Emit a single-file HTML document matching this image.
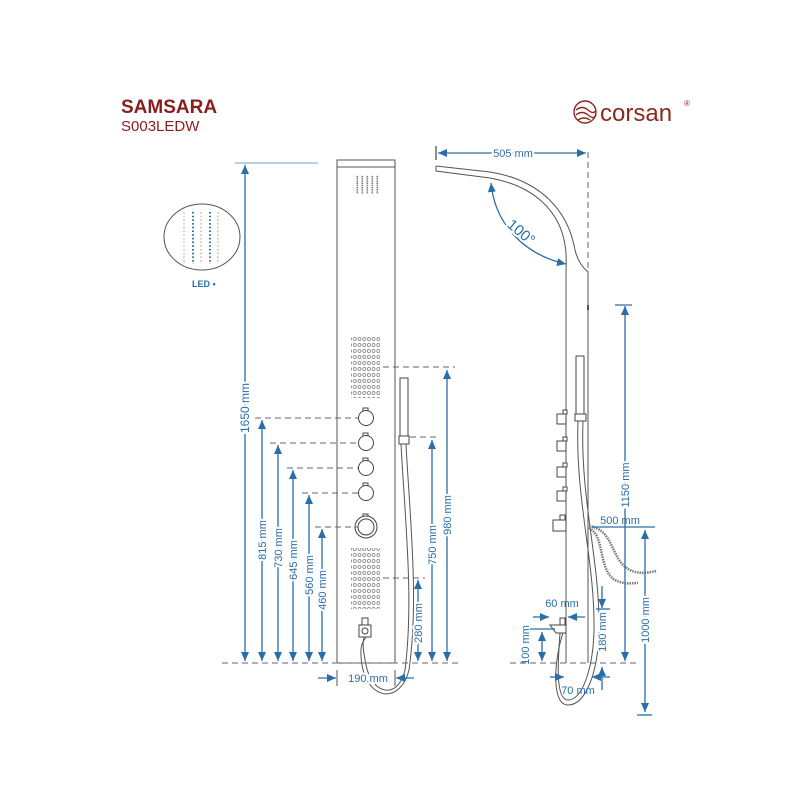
<!DOCTYPE html>
<html><head><meta charset="utf-8"><style>
html,body{margin:0;padding:0;background:#fff;}
svg{display:block;font-family:"Liberation Sans",sans-serif;}
</style></head><body>
<svg width="800" height="800" viewBox="0 0 800 800" xmlns="http://www.w3.org/2000/svg">
<defs>
<marker id="a" viewBox="0 0 10 10" refX="10" refY="5" markerWidth="9" markerHeight="8" orient="auto-start-reverse" markerUnits="userSpaceOnUse" preserveAspectRatio="none"><path d="M0,0 L10,5 L0,10 z" fill="#2a6ea8"/></marker>
<pattern id="dots" width="4.7" height="6" patternUnits="userSpaceOnUse"><circle cx="2.3" cy="3" r="1.5" fill="none" stroke="#777" stroke-width="0.7"/></pattern>
<pattern id="noz" width="5" height="2.2" patternUnits="userSpaceOnUse"><rect x="1.5" y="0" width="1.6" height="1.4" fill="#777"/></pattern>
</defs>
<text x="121" y="113" font-size="19" font-weight="bold" fill="#8b1c1c">SAMSARA</text>
<text x="121" y="131" font-size="15" fill="#8b1c1c">S003LEDW</text>
<g fill="none" stroke="#8b2a1c" stroke-width="1.4"><circle cx="585" cy="112" r="11"/><path d="M576,110 q6,-5 12,0 t8,0"/><path d="M576,115 q6,-5 12,0 t8,0"/><path d="M578,120 q6,-4 12,0"/></g>
<text x="600" y="121" font-size="24" fill="#8b2a1c">corsan</text>
<text x="684" y="106" font-size="8" fill="#8b2a1c">®</text>
<ellipse cx="202" cy="237" rx="38" ry="33" fill="none" stroke="#555" stroke-width="1"/>
<g>
<line x1="184" y1="212" x2="184" y2="264" stroke="#ccc" stroke-width="2" stroke-dasharray="1.5,2.2"/>
<line x1="193" y1="212" x2="193" y2="264" stroke="#2a6ea8" stroke-width="2" stroke-dasharray="1.5,2.2"/>
<line x1="201" y1="212" x2="201" y2="264" stroke="#ccc" stroke-width="2" stroke-dasharray="1.5,2.2"/>
<line x1="210" y1="212" x2="210" y2="264" stroke="#2a6ea8" stroke-width="2" stroke-dasharray="1.5,2.2"/>
<line x1="218" y1="212" x2="218" y2="264" stroke="#ccc" stroke-width="2" stroke-dasharray="1.5,2.2"/>
</g>
<text x="192" y="287" font-size="9" font-weight="bold" fill="#2a6ea8">LED •</text>

<g stroke="#555" fill="none" stroke-width="1">
<rect x="337" y="160" width="58" height="503"/>
<line x1="337" y1="167" x2="395" y2="167"/>
</g>
<rect x="353" y="175" width="26" height="19" fill="url(#noz)"/>
<rect x="351" y="337" width="29" height="61" fill="url(#dots)"/>
<rect x="351" y="548" width="29" height="61" fill="url(#dots)"/>
<g stroke="#444" fill="#fff" stroke-width="1">
<rect x="363" y="408" width="5" height="4"/><circle cx="366" cy="418" r="7.5"/>
<rect x="363" y="433" width="5" height="4"/><circle cx="366" cy="443" r="7.5"/>
<rect x="363" y="458" width="5" height="4"/><circle cx="366" cy="468" r="7.5"/>
<rect x="363" y="483" width="5" height="4"/><circle cx="366" cy="493" r="7.5"/>
<rect x="363" y="514" width="5" height="4"/><circle cx="366" cy="527" r="11"/><circle cx="366" cy="527" r="8"/>
<rect x="362" y="618" width="6" height="7"/><rect x="359" y="625" width="12" height="12"/><circle cx="365" cy="631" r="3"/>
<rect x="400" y="378" width="8" height="58"/><rect x="399" y="436" width="10" height="8"/>
</g>
<path d="M401,444 C405,520 414,600 405,670 C398,700 372,695 366,665 C361,640 364,640 364,637" fill="none" stroke="#555" stroke-width="1"/>
<path d="M406,444 C410,520 419,600 409,670 C400,705 368,700 362,665 C358,640 366,640 366,637" fill="none" stroke="#555" stroke-width="1"/>
<g stroke="#2a6ea8" stroke-width="1.3" fill="none">
<line x1="235" y1="163" x2="318" y2="163" stroke="#6fa0c8" stroke-width="1"/>
<line x1="245" y1="165" x2="245" y2="661" marker-start="url(#a)" marker-end="url(#a)"/>
<line x1="262" y1="420" x2="262" y2="661" marker-start="url(#a)" marker-end="url(#a)"/>
<line x1="278" y1="445" x2="278" y2="661" marker-start="url(#a)" marker-end="url(#a)"/>
<line x1="293" y1="470" x2="293" y2="661" marker-start="url(#a)" marker-end="url(#a)"/>
<line x1="309" y1="495" x2="309" y2="661" marker-start="url(#a)" marker-end="url(#a)"/>
<line x1="322" y1="529" x2="322" y2="661" marker-start="url(#a)" marker-end="url(#a)"/>
<line x1="418" y1="580" x2="418" y2="661" marker-start="url(#a)" marker-end="url(#a)"/>
<line x1="432" y1="440" x2="432" y2="661" marker-start="url(#a)" marker-end="url(#a)"/>
<line x1="447" y1="370" x2="447" y2="661" marker-start="url(#a)" marker-end="url(#a)"/>
<line x1="318" y1="678" x2="336" y2="678" marker-end="url(#a)"/>
<line x1="414" y1="678" x2="396" y2="678" marker-end="url(#a)"/>
</g>
<g stroke="#666" stroke-width="1" stroke-dasharray="6,4">
<line x1="255" y1="418" x2="358" y2="418"/>
<line x1="270" y1="443" x2="358" y2="443"/>
<line x1="287" y1="468" x2="358" y2="468"/>
<line x1="302" y1="493" x2="358" y2="493"/>
<line x1="315" y1="527" x2="358" y2="527"/>
<line x1="383" y1="367" x2="455" y2="367"/>
<line x1="410" y1="437" x2="440" y2="437"/>
<line x1="383" y1="578" x2="425" y2="578"/>
<line x1="222" y1="663" x2="460" y2="663"/>
<line x1="510" y1="663" x2="640" y2="663"/>
<line x1="588" y1="152" x2="588" y2="272"/>
</g>
<line x1="337" y1="670" x2="337" y2="686" stroke="#555"/>
<line x1="395" y1="670" x2="395" y2="686" stroke="#555"/>
<g font-size="11" fill="#2a6ea8" text-anchor="middle">
<text transform="translate(249,408) rotate(-90)" font-size="12" style="paint-order:stroke" stroke="#fff" stroke-width="4">1650 mm</text>
<text transform="translate(266,540) rotate(-90)" stroke="#fff" stroke-width="4" style="paint-order:stroke">815 mm</text>
<text transform="translate(282,548) rotate(-90)" stroke="#fff" stroke-width="4" style="paint-order:stroke">730 mm</text>
<text transform="translate(297,560) rotate(-90)" stroke="#fff" stroke-width="4" style="paint-order:stroke">645 mm</text>
<text transform="translate(313,575) rotate(-90)" stroke="#fff" stroke-width="4" style="paint-order:stroke">560 mm</text>
<text transform="translate(326,590) rotate(-90)" stroke="#fff" stroke-width="4" style="paint-order:stroke">460 mm</text>
<text transform="translate(422,623) rotate(-90)" stroke="#fff" stroke-width="4" style="paint-order:stroke">280 mm</text>
<text transform="translate(436,545) rotate(-90)" stroke="#fff" stroke-width="4" style="paint-order:stroke">750 mm</text>
<text transform="translate(451,515) rotate(-90)" stroke="#fff" stroke-width="4" style="paint-order:stroke">980 mm</text>
<text x="368" y="682" stroke="#fff" stroke-width="4" style="paint-order:stroke">190 mm</text>
</g>

<g stroke="#555" fill="none" stroke-width="1">
<path d="M436,166 L490,172 C540,180 568,210 575,250 C578,262 583,268 588,272 L588,663"/>
<path d="M436,166 L436,171 L490,178 C535,186 560,212 565,245 C567,255 566,265 566,275 L566,663"/>
<line x1="588" y1="305" x2="588" y2="310" stroke-width="2"/>
</g>
<g stroke="#444" fill="#fff" stroke-width="1">
<rect x="563" y="410" width="4" height="4"/><rect x="557" y="414" width="9" height="10"/>
<rect x="563" y="437" width="4" height="4"/><rect x="557" y="441" width="9" height="10"/>
<rect x="563" y="463" width="4" height="4"/><rect x="557" y="467" width="9" height="10"/>
<rect x="563" y="487" width="4" height="4"/><rect x="557" y="491" width="9" height="10"/>
<rect x="560" y="515" width="5" height="5"/><rect x="553" y="520" width="13" height="11"/>
<rect x="576" y="356" width="8" height="58"/><rect x="575" y="414" width="11" height="7"/>
<path d="M550,625 L566,625 L566,633 L556,633 Z"/><rect x="560" y="618" width="5" height="7"/>
</g>
<path d="M578,421 C575,500 595,560 594,630 C593,670 582,700 568,700 C555,700 558,660 560,633" fill="none" stroke="#555"/>
<path d="M583,421 C580,500 600,560 599,630 C598,675 585,705 568,705 C551,705 554,660 563,633" fill="none" stroke="#555"/>
<g fill="none" stroke="#777" stroke-width="2.5" stroke-dasharray="1.5,1">
<path d="M589,526 C615,530 610,560 630,570 C640,575 650,572 657,571"/>
<path d="M589,528 C605,535 598,570 615,580 C625,585 632,583 638,583"/>
</g>
<g stroke="#2a6ea8" stroke-width="1.3" fill="none">
<line x1="438" y1="153" x2="586" y2="153" marker-start="url(#a)" marker-end="url(#a)"/>
<line x1="436" y1="146" x2="436" y2="160" stroke="#555"/>
<path d="M491,183 C495,225 525,255 566,264" marker-start="url(#a)" marker-end="url(#a)"/>
<line x1="625" y1="306" x2="625" y2="661" marker-start="url(#a)" marker-end="url(#a)"/>
<line x1="615" y1="305" x2="632" y2="305"/>
<line x1="645" y1="530" x2="645" y2="712" marker-start="url(#a)" marker-end="url(#a)"/>
<line x1="592" y1="527" x2="655" y2="527"/>
<line x1="637" y1="715" x2="652" y2="715"/>
<line x1="533" y1="617" x2="549" y2="617" marker-end="url(#a)"/>
<line x1="585" y1="617" x2="568" y2="617" marker-end="url(#a)"/>
<line x1="542" y1="632" x2="542" y2="661" marker-start="url(#a)" marker-end="url(#a)"/>
<line x1="530" y1="629" x2="555" y2="629"/>
<line x1="602" y1="586" x2="602" y2="608" marker-end="url(#a)"/>
<line x1="602" y1="690" x2="602" y2="667" marker-end="url(#a)"/>
<line x1="596" y1="609" x2="610" y2="609"/>
<line x1="550" y1="677" x2="564" y2="677" marker-end="url(#a)"/>
<line x1="610" y1="677" x2="592" y2="677" marker-end="url(#a)"/>
</g>
<g font-size="11" fill="#2a6ea8" text-anchor="middle">
<text x="513" y="157" stroke="#fff" stroke-width="4" style="paint-order:stroke">505 mm</text>
<text transform="translate(518,236) rotate(40)" font-size="15" stroke="#fff" stroke-width="4" style="paint-order:stroke">100°</text>
<text transform="translate(629,485) rotate(-90)" stroke="#fff" stroke-width="4" style="paint-order:stroke">1150 mm</text>
<text x="620" y="524">500 mm</text>
<text transform="translate(649,620) rotate(-90)" stroke="#fff" stroke-width="4" style="paint-order:stroke">1000 mm</text>
<text x="562" y="607">60 mm</text>
<text transform="translate(529,645) rotate(-90)">100 mm</text>
<text transform="translate(606,632) rotate(-90)" stroke="#fff" stroke-width="4" style="paint-order:stroke">180 mm</text>
<text x="578" y="694">70 mm</text>
</g>
</svg>
</body></html>
